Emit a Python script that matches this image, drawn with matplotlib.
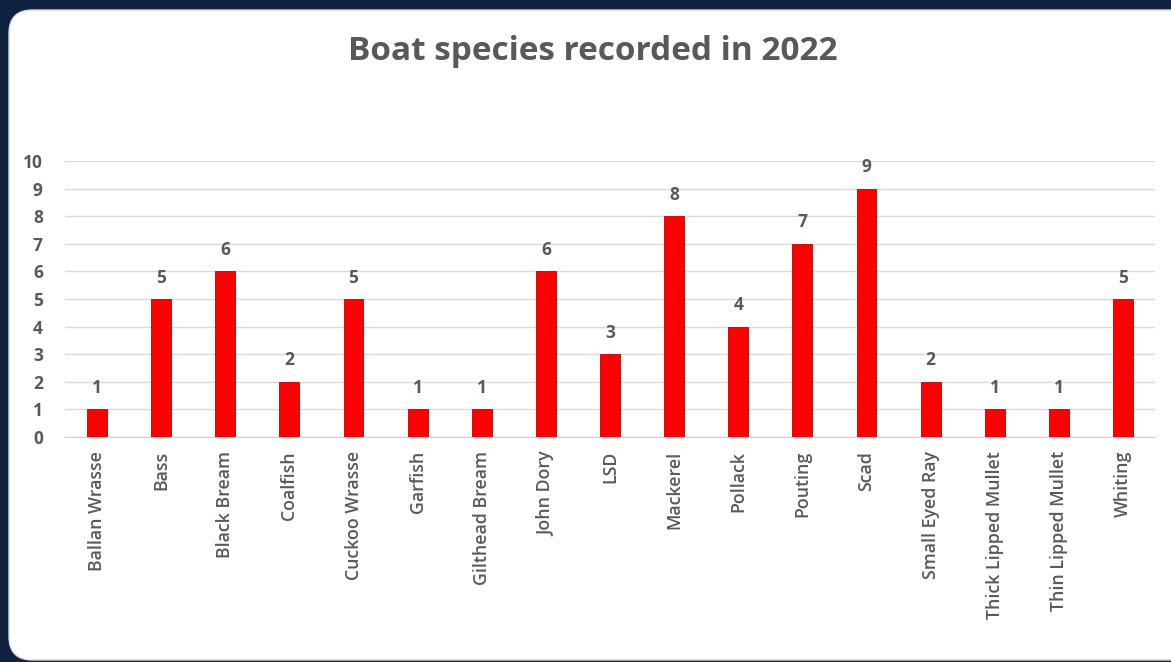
import matplotlib
matplotlib.use("Agg")
import matplotlib.pyplot as plt
from matplotlib.patches import FancyBboxPatch

species = ["Ballan Wrasse", "Bass", "Black Bream", "Coalfish", "Cuckoo Wrasse",
           "Garfish", "Gilthead Bream", "John Dory", "LSD", "Mackerel", "Pollack",
           "Pouting", "Scad", "Small Eyed Ray", "Thick Lipped Mullet",
           "Thin Lipped Mullet", "Whiting"]
counts = [1, 5, 6, 2, 5, 1, 1, 6, 3, 8, 4, 7, 9, 2, 1, 1, 5]
yticks = list(range(0, 11))
title = "Boat species recorded in 2022"

W, H = 1171, 662
fig = plt.figure(figsize=(W / 100, H / 100), dpi=100)
fig.patch.set_facecolor("#0f2341")

panel = FancyBboxPatch((9 / W, 2 / H), (W + 30 - 9) / W, (652 - 2) / H,
                       boxstyle="round,pad=0,rounding_size=0.02",
                       transform=fig.transFigure, facecolor="white",
                       edgecolor="#d9d9d9", linewidth=1.0, zorder=-5,
                       mutation_aspect=W / H)
fig.patches.append(panel)

fontfam = ["Open Sans", "DejaVu Sans"]
grey = "#595959"

ax_left, ax_right = 65 / W, 1155 / W
ax_bottom, ax_top = (H - 437) / H, (H - 161) / H
ax = fig.add_axes([ax_left, ax_bottom, ax_right - ax_left, ax_top - ax_bottom])
ax.set_zorder(2)
ax.set_facecolor("none")

x = list(range(len(species)))
ax.bar(x, counts, width=0.31, color="#ff0000", edgecolor="#c00000",
       linewidth=0.6, zorder=3)
for xi, c in zip(x, counts):
    ax.text(xi, c + 0.45, str(c), ha="center", va="bottom", fontsize=12.5,
            color=grey, fontweight="bold", family=fontfam)

ax.set_xlim(-0.5, len(species) - 0.5)
ax.set_ylim(0, 10)
ax.set_yticks(yticks)
ax.set_yticklabels([str(v) for v in yticks], fontsize=12.5, color=grey,
                   fontweight="bold", family=fontfam)
ax.set_xticks(x)
ax.set_xticklabels(species, rotation=90, fontsize=12.8, color=grey,
                   family=fontfam, fontweight="semibold")
ax.tick_params(axis="both", length=0)
ax.tick_params(axis="y", pad=16)
ax.tick_params(axis="x", pad=10)
ax.yaxis.grid(True, color="#d9d9d9", linewidth=1.0, zorder=0)
ax.set_axisbelow(True)
for s in ["top", "right", "left"]:
    ax.spines[s].set_visible(False)
ax.spines["bottom"].set_color("#d0d0d0")

t = fig.text(593 / W, 1 - 51 / H, title, ha="center", va="center", fontsize=24,
             fontweight="bold", color=grey, family=fontfam)
t.set_zorder(3)

fig.savefig("out.png", dpi=100, facecolor=fig.get_facecolor())
